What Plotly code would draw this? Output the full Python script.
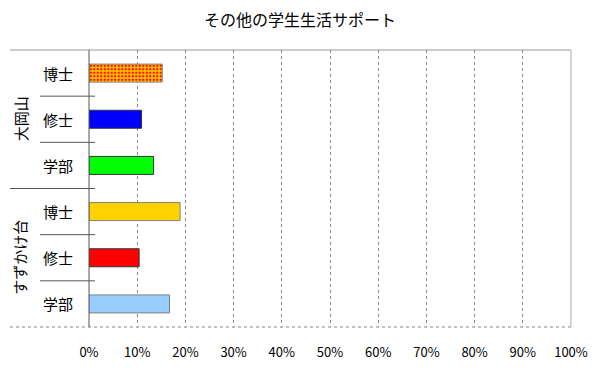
import plotly.graph_objects as go

groups = ["大岡山", "すずかけ台"]
degrees = ["博士", "修士", "学部"]
values = [0.152, 0.109, 0.134, 0.189, 0.104, 0.167]
colors = ["#FFC000", "#0000FF", "#00FF00", "#FFD200", "#FF0000", "#99CCFF"]
line_colors = ["#808080", "#333333", "#333333", "#808080", "#333333", "#808080"]
patterned = [True, False, False, False, False, False]
dot_color = "#FF0000"
x_ticks = [i / 10 for i in range(11)]

cats = [f"{g}-{d}" for g in groups for d in degrees]

fig = go.Figure()
for i in range(len(values)):
    marker = dict(color=colors[i], line=dict(color=line_colors[i], width=1))
    if patterned[i]:
        marker["pattern"] = dict(shape=".", fgcolor=dot_color, bgcolor=colors[i],
                                 fgopacity=1, fillmode="overlay", size=3.5, solidity=0.35)
    fig.add_trace(go.Bar(x=[values[i]], y=[cats[i]], orientation="h", width=0.39,
                         marker=marker, hoverinfo="skip"))

L, R, T, B = 89, 29, 50, 45
W, H = 600, 372
pw = W - L - R

def px(xp):
    return (xp - L) / pw

shapes = []
shapes.append(dict(type="line", xref="paper", yref="paper", x0=px(10), x1=1, y0=1, y1=1,
                   line=dict(color="#999999", width=1)))
shapes.append(dict(type="line", xref="paper", yref="paper", x0=1, x1=1, y0=0, y1=1,
                   line=dict(color="#AAAAAA", width=1)))
shapes.append(dict(type="line", xref="paper", yref="paper", x0=px(10), x1=1, y0=0, y1=0,
                   line=dict(color="#888888", width=1, dash="dot")))
shapes.append(dict(type="line", xref="paper", yref="paper", x0=0, x1=0, y0=0, y1=1,
                   line=dict(color="#555555", width=1)))
for i in range(1, 6):
    x0 = px(10) if i == 3 else px(40)
    shapes.append(dict(type="line", xref="paper", yref="y", x0=x0, x1=px(95),
                       y0=i - 0.5, y1=i - 0.5, line=dict(color="#555555", width=1)))

annotations = []
for i, c in enumerate(cats):
    annotations.append(dict(xref="paper", yref="y", x=px(58), y=i, text=c.split("-")[1],
                            showarrow=False, font=dict(size=15, color="#000000"),
                            xanchor="center", yanchor="middle"))
for gi, g in enumerate(groups):
    annotations.append(dict(xref="paper", yref="y", x=px(20), y=gi * 3 + 1, text=g,
                            showarrow=False, textangle=-90, font=dict(size=15, color="#000000"),
                            xanchor="center", yanchor="middle"))

fig.update_layout(
    width=W, height=H,
    margin=dict(l=L, r=R, t=T, b=B, autoexpand=False),
    paper_bgcolor="white", plot_bgcolor="white",
    font=dict(family="Noto Sans CJK JP", color="#000000"),
    title=dict(text="その他の学生生活サポート", x=0.5, xanchor="center", y=1 - 20 / H,
               yanchor="middle", font=dict(size=16, color="#000000")),
    xaxis=dict(range=[0, 1], tickvals=x_ticks, tickformat=".0%", showgrid=True,
               gridcolor="#888888", griddash="dot", gridwidth=1, zeroline=False,
               showline=False, ticks="", ticklabelstandoff=16, tickfont=dict(size=13),
               automargin=False),
    yaxis=dict(type="category", categoryorder="array", categoryarray=cats,
               range=[5.5, -0.5], showticklabels=False, showgrid=False, zeroline=False,
               showline=False, ticks="", automargin=False),
    shapes=shapes, annotations=annotations,
    showlegend=False, barmode="overlay",
)

fig.write_html("out.html", config={"displayModeBar": False},
               post_script="document.body.style.margin='0';document.body.style.overflow='hidden';")
